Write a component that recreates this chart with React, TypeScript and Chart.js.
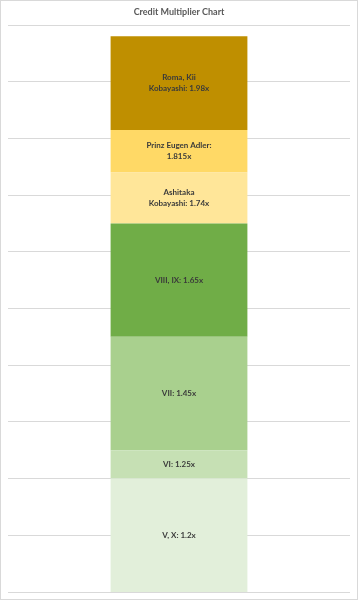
import React, { useEffect, useRef } from "react";
import { Chart, registerables } from "chart.js";

Chart.register(...registerables);

const title = "Credit Multiplier Chart";
const category = ["Multiplier"];
const axisMin = 1.0;
const axisMax = 2.0;
const axisStep = 0.1;
const thresholds = [1.2, 1.25, 1.45, 1.65, 1.74, 1.815, 1.98];
const segmentLabels = [
  ["V, X: 1.2x"],
  ["VI: 1.25x"],
  ["VII: 1.45x"],
  ["VIII, IX: 1.65x"],
  ["Ashitaka", "Kobayashi: 1.74x"],
  ["Prinz Eugen Adler:", "1.815x"],
  ["Roma, Kii", "Kobayashi: 1.98x"],
];
const segmentColors = ["#E2EFDA", "#C6E0B4", "#A9D08E", "#70AD47", "#FFE699", "#FFD966", "#BF8F00"];

const FONT = "Lato, 'Open Sans', sans-serif";

const labelPlugin = {
  id: "segLabels",
  afterDatasetsDraw(chart: any) {
    const ctx = chart.ctx;
    ctx.save();
    ctx.font = `bold 8px ${FONT}`;
    ctx.fillStyle = "#3A3A3A";
    ctx.textAlign = "center";
    ctx.textBaseline = "middle";
    chart.data.datasets.forEach((ds: any, i: number) => {
      const meta = chart.getDatasetMeta(i);
      const el = meta.data[0];
      if (!el) return;
      const cy = (el.y + el.base) / 2;
      const lines = segmentLabels[i];
      const lh = 11;
      lines.forEach((ln, k) => {
        ctx.fillText(ln, el.x, cy + (k - (lines.length - 1) / 2) * lh);
      });
    });
    ctx.restore();
  },
};

const titlePlugin = {
  id: "customTitle",
  afterDraw(chart: any) {
    const ctx = chart.ctx;
    ctx.save();
    ctx.font = `bold 9px ${FONT}`;
    ctx.fillStyle = "#595959";
    ctx.textAlign = "center";
    ctx.textBaseline = "middle";
    ctx.fillText(title, chart.width / 2, 11.5);
    ctx.restore();
  },
};

export default function App() {
  const ref = useRef<HTMLCanvasElement>(null);
  useEffect(() => {
    document.body.style.margin = "0";
    const datasets = thresholds.map((v, i) => ({
      label: segmentLabels[i].join(" "),
      data: [[i === 0 ? axisMin : thresholds[i - 1], v]],
      backgroundColor: segmentColors[i],
      borderWidth: 0,
      grouped: false,
      barPercentage: 0.4,
      categoryPercentage: 1,
    }));
    const chart = new Chart(ref.current!, {
      type: "bar",
      data: { labels: category, datasets: datasets as any },
      options: {
        animation: false,
        responsive: false,
        maintainAspectRatio: false,
        layout: { padding: { left: 7, right: 7, top: 24, bottom: 7 } },
        plugins: { legend: { display: false }, tooltip: { enabled: false }, title: { display: false } },
        scales: {
          x: { display: false },
          y: {
            min: axisMin,
            max: axisMax,
            ticks: { display: false, stepSize: axisStep },
            grid: { color: "#D9D9D9", lineWidth: 1, drawTicks: false },
            border: { display: false },
          },
        },
      },
      plugins: [labelPlugin, titlePlugin],
    });
    return () => chart.destroy();
  }, []);
  return (
    <div
      style={{
        position: "fixed",
        left: 0,
        top: 0,
        width: 358,
        height: 600,
        boxSizing: "border-box",
        border: "1px solid #D9D9D9",
        background: "#fff",
      }}
    >
      <canvas ref={ref} width={356} height={598} style={{ display: "block" }} />
    </div>
  );
}
